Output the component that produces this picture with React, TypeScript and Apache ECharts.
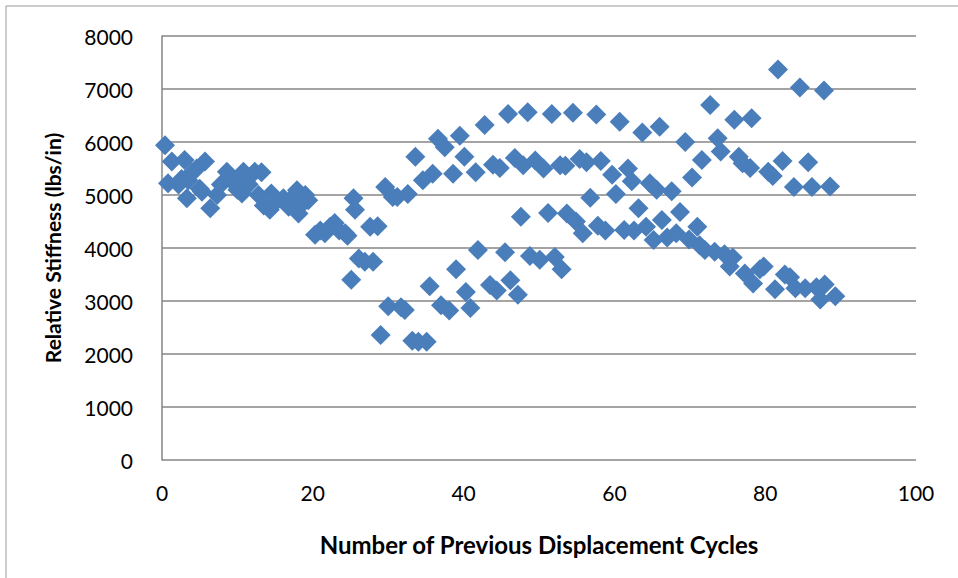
import React, { useEffect, useRef } from "react";
import * as echarts from "echarts";

// Number of previous displacement cycles for each measurement
const cycles: number[] = [
  0.4, 0.8, 1.3, 2.2, 2.6, 3.0, 3.3, 3.5, 4.0, 4.6, 5.0, 5.3, 5.7, 6.4, 7.3, 7.8, 8.6, 9.0, 9.5, 10.0,
  10.6, 10.8, 11.5, 12.3, 12.8, 13.2, 13.5, 14.3, 14.5, 15.3, 16.1, 16.8, 17.4, 17.9, 18.1, 18.7, 19.0, 19.4, 20.3, 21.0,
  21.6, 22.3, 22.9, 23.5, 24.3, 24.6, 25.1, 25.4, 25.6, 26.1, 26.9, 27.6, 28.0, 28.6, 29.0, 29.6, 30.0, 30.6, 31.2, 31.7,
  32.2, 32.6, 33.2, 33.6, 34.0, 34.6, 35.1, 35.5, 35.9, 36.6, 37.0, 37.5, 38.1, 38.6, 39.0, 39.5, 40.1, 40.3, 40.9, 41.6,
  41.9, 42.8, 43.5, 43.9, 44.4, 44.8, 45.5, 45.9, 46.2, 46.8, 47.2, 47.6, 47.9, 48.5, 48.8, 49.5, 50.1, 50.6, 51.2, 51.7,
  52.1, 52.8, 53.0, 53.5, 53.7, 54.5, 54.9, 55.4, 55.8, 56.3, 56.8, 57.6, 57.8, 58.2, 58.8, 59.7, 60.2, 60.7, 61.3, 61.8,
  62.3, 62.6, 63.2, 63.7, 64.2, 64.7, 65.2, 65.6, 66.0, 66.3, 67.0, 67.6, 68.2, 68.7, 69.4, 69.9, 70.3, 71.0, 71.3, 71.6,
  72.0, 72.7, 73.3, 73.7, 74.1, 74.6, 75.3, 75.7, 75.9, 76.5, 77.0, 77.3, 78.0, 78.2, 78.4, 79.3, 79.8, 80.4, 81.0, 81.3,
  81.7, 82.3, 82.6, 83.3, 83.8, 84.0, 84.6, 85.3, 85.7, 86.2, 86.8, 87.3, 87.8, 87.9, 88.6, 89.3,
];

// Relative stiffness (lbs/in) at each cycle count
const stiffness: number[] = [
  5940, 5220, 5630, 5200, 5300, 5660, 4940, 5280, 5430, 5500, 5120, 5060, 5630, 4750, 5000, 5200, 5440, 5300, 5280, 5100,
  5030, 5440, 5200, 5440, 5000, 5430, 4800, 4720, 5030, 4900, 4940, 4780, 4960, 5090, 4650, 4850, 5000, 4900, 4250, 4330,
  4280, 4400, 4470, 4330, 4280, 4230, 3400, 4940, 4720, 3800, 3740, 4400, 3740, 4410, 2360, 5150, 2900, 4960, 4960, 2880,
  2830, 5020, 2250, 5720, 2230, 5280, 2230, 3280, 5400, 6060, 2920, 5900, 2820, 5400, 3600, 6120, 5720, 3170, 2870, 5430,
  3960, 6320, 3300, 5570, 3200, 5510, 3920, 6530, 3390, 5700, 3120, 4590, 5560, 6560, 3850, 5650, 3780, 5500, 4660, 6530,
  3830, 5560, 3600, 5550, 4650, 6550, 4500, 5680, 4280, 5620, 4950, 6520, 4420, 5640, 4330, 5380, 5020, 6380, 4340, 5500,
  5260, 4330, 4750, 6180, 4400, 5220, 4150, 5100, 6290, 4530, 4200, 5070, 4280, 4680, 6000, 4160, 5330, 4400, 4050, 5660,
  3960, 6700, 3930, 6070, 5820, 3880, 3650, 3820, 6420, 5720, 5600, 3520, 5510, 6450, 3330, 3600, 3650, 5440, 5360, 3220,
  7370, 5640, 3500, 3450, 5150, 3240, 7030, 3240, 5620, 5150, 3260, 3030, 6970, 3310, 5160, 3090,
];

const xTicks = { min: 0, max: 100, interval: 20 };
const yTicks = { min: 0, max: 8000, interval: 1000 };

const GRID_GRAY = "#868686";
const MARKER_BLUE = "#4A7EBB";
const FONT = "Lato, 'Open Sans', sans-serif";

export default function App() {
  const ref = useRef<HTMLDivElement>(null);

  useEffect(() => {
    document.body.style.margin = "0";
    if (!ref.current) return;
    const chart = echarts.init(ref.current, null, { renderer: "svg" });
    const points = cycles.map((c, i) => [c, stiffness[i]]);

    chart.setOption({
      animation: false,
      backgroundColor: "#ffffff",
      graphic: [
        {
          type: "rect",
          shape: { x: 6, y: 6, width: 1000, height: 1000 },
          style: { fill: "none", stroke: "#9a9a9a", lineWidth: 1 },
          silent: true,
        },
      ],
      grid: { left: 162, right: 42, top: 36, bottom: 118, containLabel: false },
      xAxis: {
        type: "value",
        min: xTicks.min,
        max: xTicks.max,
        interval: xTicks.interval,
        name: "Number of Previous Displacement Cycles",
        nameLocation: "middle",
        nameGap: 72,
        nameTextStyle: { fontFamily: FONT, fontSize: 24, fontWeight: "bold", color: "#000" },
        axisLine: { show: false },
        axisTick: { show: false },
        splitLine: { show: false },
        axisLabel: { fontFamily: FONT, fontSize: 21, color: "#000", margin: 22 },
      },
      yAxis: {
        type: "value",
        min: yTicks.min,
        max: yTicks.max,
        interval: yTicks.interval,
        name: "Relative Stiffness (lbs/in)",
        nameLocation: "middle",
        nameGap: 99,
        nameRotate: 90,
        nameTextStyle: { fontFamily: FONT, fontSize: 21, fontWeight: "bold", color: "#000" },
        axisLine: { show: true, lineStyle: { color: GRID_GRAY, width: 1.5 } },
        axisTick: { show: false },
        splitLine: { show: true, lineStyle: { color: GRID_GRAY, width: 1.5 } },
        axisLabel: {
          fontFamily: FONT,
          fontSize: 21,
          color: "#000",
          margin: 29,
          formatter: (v: number) => String(v),
        },
      },
      series: [
        {
          type: "scatter",
          data: points,
          symbol: "diamond",
          symbolSize: 20,
          itemStyle: { color: MARKER_BLUE, opacity: 1 },
          emphasis: { disabled: true },
        },
      ],
    });

    return () => chart.dispose();
  }, []);

  return <div ref={ref} style={{ width: 958, height: 578 }} />;
}
